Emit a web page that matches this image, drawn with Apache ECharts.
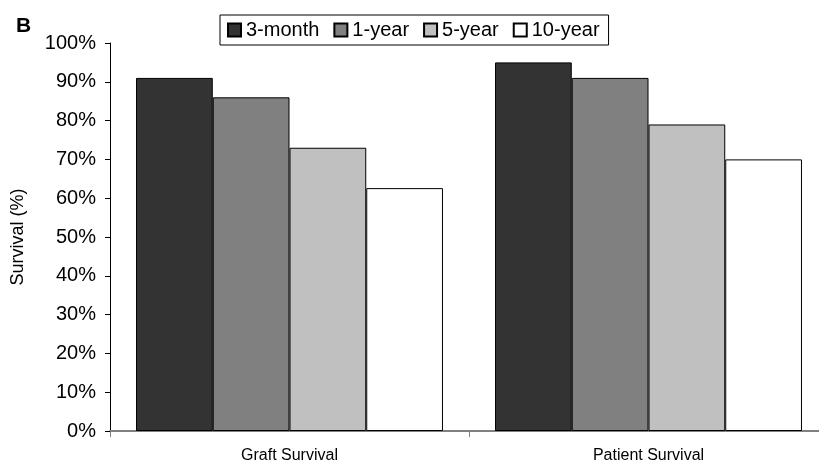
<!DOCTYPE html>
<html>
<head>
<meta charset="utf-8">
<script src="https://cdn.jsdelivr.net/npm/echarts@6/dist/echarts.min.js"></script>
<style>html,body{margin:0;padding:0;background:#fff}#c{width:819px;height:464px}</style>
</head>
<body>
<div id="c"></div>
<script>
const categories = ['Graft Survival', 'Patient Survival'];
const seriesNames = ['3-month', '1-year', '5-year', '10-year'];
const threeMonth = [91, 95];
const oneYear = [86, 91];
const fiveYear = [73, 79];
const tenYear = [62.6, 70];
const yTicks = [0, 10, 20, 30, 40, 50, 60, 70, 80, 90, 100];

const colors = ['#333333', '#808080', '#c0c0c0', '#ffffff'];
const values = [threeMonth, oneYear, fiveYear, tenYear];
const FONT = '"Liberation Sans", Arial, sans-serif';

const chart = echarts.init(document.getElementById('c'), null, {renderer: 'canvas'});
chart.setOption({
  animation: false,
  backgroundColor: '#ffffff',
  title: {
    text: 'B', left: 16, top: 16, padding: 0,
    textStyle: {fontFamily: FONT, fontSize: 21, fontWeight: 'bold', color: '#000'}
  },
  legend: {
    data: seriesNames,
    left: 220, top: 15,
    padding: [5, 9, 5, 7],
    itemGap: 14,
    itemWidth: 13, itemHeight: 13,
    icon: 'rect',
    borderColor: '#000', borderWidth: 1,
    backgroundColor: '#fff',
    textStyle: {fontFamily: FONT, fontSize: 20, color: '#000'}
  },
  grid: {left: 110, top: 43, width: 718, height: 388, containLabel: false, outerBoundsMode: 'none'},
  xAxis: {
    type: 'category',
    data: categories,
    boundaryGap: true,
    axisLine: {lineStyle: {color: '#808080', width: 2}},
    axisTick: {show: true, length: 6, lineStyle: {color: '#808080', width: 1}},
    axisLabel: {fontFamily: FONT, fontSize: 16, color: '#000', margin: 17}
  },
  yAxis: {
    type: 'value',
    min: yTicks[0], max: yTicks[yTicks.length - 1], interval: 10,
    name: 'Survival (%)',
    nameLocation: 'middle',
    nameGap: 83,
    nameRotate: 90,
    nameTextStyle: {fontFamily: FONT, fontSize: 18, color: '#000'},
    axisLine: {show: true, lineStyle: {color: '#000', width: 1}},
    axisTick: {show: true, length: 5, lineStyle: {color: '#000'}},
    splitLine: {show: false},
    axisLabel: {fontFamily: FONT, fontSize: 20, color: '#000', margin: 14, formatter: '{value}%'}
  },
  series: seriesNames.map((n, i) => ({
    name: n,
    type: 'bar',
    data: values[i],
    barGap: '0%',
    barCategoryGap: '14.5%',
    itemStyle: {color: colors[i], borderColor: '#000', borderWidth: 1}
  }))
});
</script>
</body>
</html>
